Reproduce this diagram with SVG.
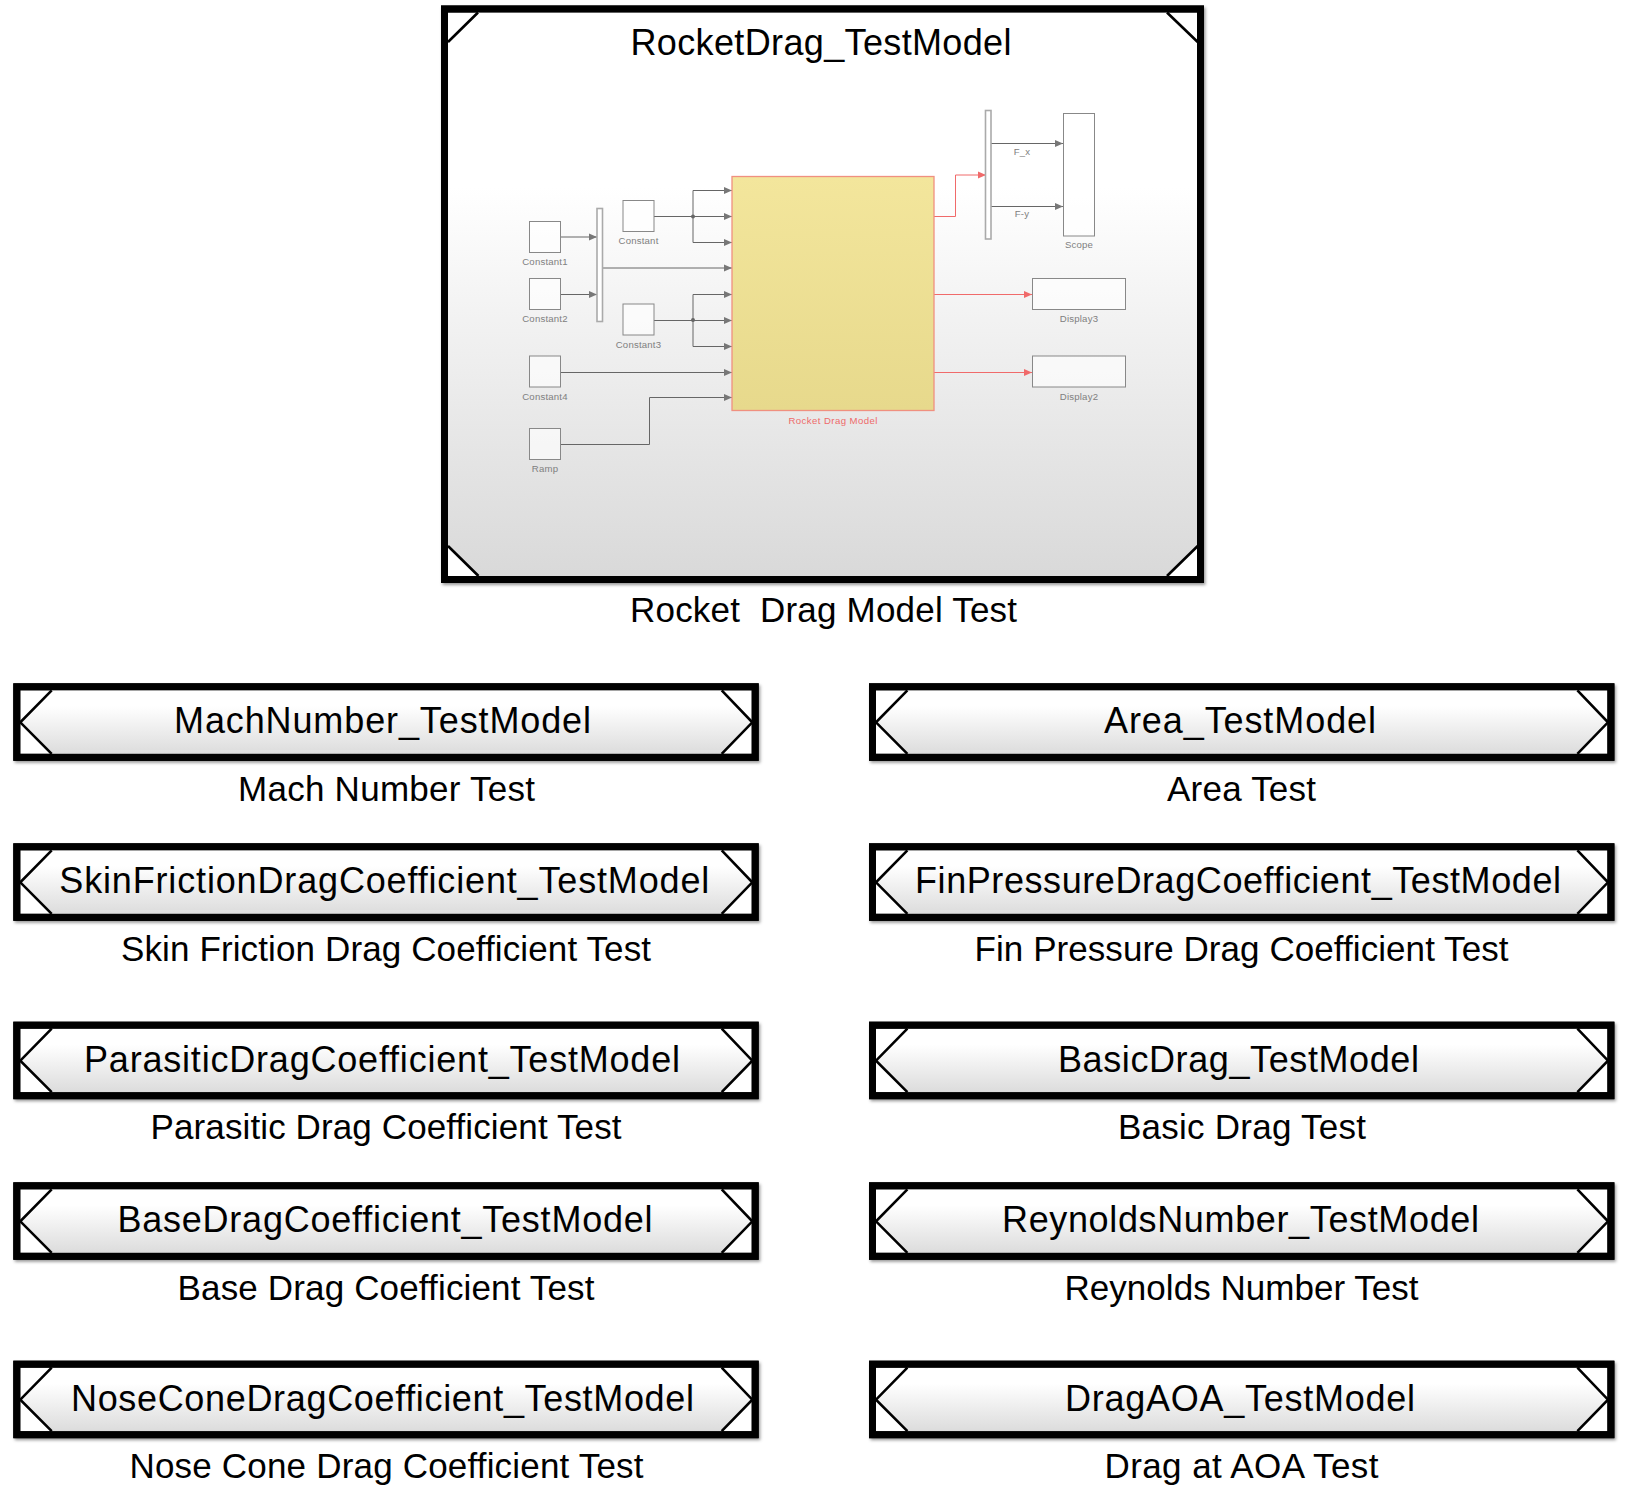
<svg xmlns="http://www.w3.org/2000/svg" width="1631" height="1492" viewBox="0 0 1631 1492">
<style>
text{font-family:"Liberation Sans",Arial,sans-serif;fill:#000}
.t{font-size:36px}
.l{font-size:35px;white-space:pre}
.s{font-size:9.600px;fill:#808080;text-anchor:middle;letter-spacing:.2px}
.r{fill:#ee6a6a}
.frame{fill:none;stroke:#000;stroke-width:7}
.cut{fill:none;stroke:#000;stroke-width:2.600}
.blk{fill:#fff;fill-opacity:.65;stroke:#888;stroke-width:1}
.mux{fill:#fff;stroke:#aaa;stroke-width:1.600}
.w{fill:none;stroke:#666;stroke-width:1;marker-end:url(#ga)}
.w0{fill:none;stroke:#666;stroke-width:1}
.wr{fill:none;stroke:#f06a6a;stroke-width:1;marker-end:url(#ra)}
.shadow{fill:#000;filter:url(#sh)}
</style>
<defs>
<linearGradient id="gm" x1="0" y1="0" x2="0" y2="1"><stop offset="0.31" stop-color="#fff"/><stop offset="1" stop-color="#d9d9d9"/></linearGradient>
<linearGradient id="gs" x1="0" y1="0" x2="0" y2="1"><stop offset="0.25" stop-color="#fff"/><stop offset="1" stop-color="#dcdcdc"/></linearGradient>
<linearGradient id="gy" x1="0" y1="0" x2="0" y2="1"><stop offset="0" stop-color="#f3e69c"/><stop offset="1" stop-color="#e7d98c"/></linearGradient>
<filter id="sh" x="-5%" y="-10%" width="110%" height="125%"><feDropShadow dx="1.500" dy="2" stdDeviation="1.600" flood-color="#000" flood-opacity=".4"/></filter>
<marker id="ga" markerUnits="userSpaceOnUse" markerWidth="8" markerHeight="8" viewBox="0 0 8 8" refX="8" refY="4" orient="auto"><path d="M0 .5L8 4L0 7.500Z" fill="#777"/></marker>
<marker id="ra" markerUnits="userSpaceOnUse" markerWidth="8" markerHeight="8" viewBox="0 0 8 8" refX="8" refY="4" orient="auto"><path d="M0 .5L8 4L0 7.500Z" fill="#f06a6a"/></marker>
<g id="sub">
<rect class="shadow" x="0" y="0" width="745.400" height="77.500"/>
<rect x="7" y="7" width="731.400" height="63.500" fill="#fff"/>
<polygon points="38.400,7 7,39 38.400,70.500 708.400,70.500 738.400,39 708.400,7" fill="url(#gs)"/>
<polyline class="cut" points="38.400,7 7,39 38.400,70.500"/>
<polyline class="cut" points="708.400,7 739,39 708.400,70.500"/>
<rect class="frame" x="3.500" y="3.500" width="738.400" height="70.500"/>
</g>
</defs>
<rect width="1631" height="1492" fill="#fff"/>

<g id="main-block">
<rect class="shadow" x="441" y="5.500" width="763" height="577.500"/>
<rect x="448" y="12.500" width="749.500" height="563.500" fill="#fff"/>
<polygon points="478,12.500 448,42 448,546 478.500,576 1167,576 1197.700,546 1197.700,42 1167,12.500" fill="url(#gm)"/>
<path class="cut" d="M448 42L478 12.500M1167 12.500L1197.700 42M448 546L478.500 576M1167 576L1197.700 546"/>
<rect class="frame" x="444.500" y="9" width="756" height="570.500"/>
<text class="t" x="630.500" y="55" textLength="381" lengthAdjust="spacing">RocketDrag_TestModel</text>
<text class="l" x="630" y="622" textLength="387" lengthAdjust="spacing" xml:space="preserve">Rocket  Drag Model Test</text>
</g>

<g id="thumbnail-connectors">
<polyline class="w" points="561,237 597,237"/>
<polyline class="w" points="561,294.500 597,294.500"/>
<polyline class="w" points="603,268 732,268"/>
<polyline class="w0" points="654,216.500 693,216.500"/>
<polyline class="w" points="693,216.500 732,216.500"/>
<polyline class="w" points="693,216.500 693,190.500 732,190.500"/>
<polyline class="w" points="693,216.500 693,242.500 732,242.500"/>
<circle cx="693" cy="216.500" r="2" fill="#666"/>
<polyline class="w0" points="654,320.500 693,320.500"/>
<polyline class="w" points="693,320.500 732,320.500"/>
<polyline class="w" points="693,320.500 693,294.500 732,294.500"/>
<polyline class="w" points="693,320.500 693,346.500 732,346.500"/>
<circle cx="693" cy="320" r="2" fill="#666"/>
<polyline class="w" points="561,372.500 732,372.500"/>
<polyline class="w" points="561,444.500 649.500,444.500 649.500,397.500 732,397.500"/>
<polyline class="wr" points="934,216.500 955.500,216.500 955.500,175 986,175"/>
<polyline class="wr" points="934,294.500 1032,294.500"/>
<polyline class="wr" points="934,372.500 1032,372.500"/>
<polyline class="w" points="991,143.500 1063,143.500"/>
<polyline class="w" points="991,206.500 1063,206.500"/>
</g>

<g id="Constant1"><rect class="blk" x="529.500" y="221.500" width="31" height="31"/><text class="s" x="545" y="265">Constant1</text></g>
<g id="Constant2"><rect class="blk" x="529.500" y="278.500" width="31" height="31"/><text class="s" x="545" y="322">Constant2</text></g>
<g id="Constant"><rect class="blk" x="623" y="200.500" width="31" height="31"/><text class="s" x="638.500" y="244">Constant</text></g>
<g id="Constant3"><rect class="blk" x="623" y="304" width="31" height="31"/><text class="s" x="638.500" y="348">Constant3</text></g>
<g id="Constant4"><rect class="blk" x="529.500" y="356" width="31" height="31"/><text class="s" x="545" y="400">Constant4</text></g>
<g id="Ramp"><rect class="blk" x="529.500" y="428.500" width="31" height="31"/><text class="s" x="545" y="472">Ramp</text></g>
<g id="Mux1"><rect class="mux" x="597" y="208.500" width="5.500" height="113"/></g>
<g id="Mux2"><rect class="mux" x="985.500" y="110.500" width="5.500" height="128.500"/></g>
<g id="RocketDragModel"><rect x="732" y="176.500" width="202" height="234" fill="url(#gy)" stroke="#f09080" stroke-width="1.300"/><text class="s r" x="833" y="424" textLength="89" lengthAdjust="spacing">Rocket Drag Model</text></g>
<g id="Scope"><rect class="blk" x="1063.500" y="113.500" width="31" height="122.500"/><text class="s" x="1079" y="248">Scope</text></g>
<g id="Display3"><rect class="blk" x="1032.500" y="278.500" width="93" height="31"/><text class="s" x="1079" y="322">Display3</text></g>
<g id="Display2"><rect class="blk" x="1032.500" y="356" width="93" height="31"/><text class="s" x="1079" y="400">Display2</text></g>
<g id="F_x"><text class="s" x="1022" y="155">F_x</text></g>
<g id="F-y"><text class="s" x="1022" y="217">F-y</text></g>

<g id="MachNumber"><use href="#sub" x="13.300" y="683.300"/><text class="t" x="174" y="733.300" textLength="417" lengthAdjust="spacing">MachNumber_TestModel</text><text class="l" x="238" y="801" textLength="297" lengthAdjust="spacing">Mach Number Test</text></g>
<g id="SkinFriction"><use href="#sub" x="13.300" y="843.300"/><text class="t" x="59.300" y="893.300" textLength="650" lengthAdjust="spacing">SkinFrictionDragCoefficient_TestModel</text><text class="l" x="121" y="961" textLength="530" lengthAdjust="spacing">Skin Friction Drag Coefficient Test</text></g>
<g id="Parasitic"><use href="#sub" x="13.300" y="1021.700"/><text class="t" x="84" y="1071.700" textLength="596" lengthAdjust="spacing">ParasiticDragCoefficient_TestModel</text><text class="l" x="150.500" y="1139.400" textLength="471" lengthAdjust="spacing">Parasitic Drag Coefficient Test</text></g>
<g id="BaseDrag"><use href="#sub" x="13.300" y="1182.300"/><text class="t" x="117.500" y="1232.300" textLength="535" lengthAdjust="spacing">BaseDragCoefficient_TestModel</text><text class="l" x="177.500" y="1300" textLength="417" lengthAdjust="spacing">Base Drag Coefficient Test</text></g>
<g id="NoseCone"><use href="#sub" x="13.300" y="1360.700"/><text class="t" x="71" y="1410.700" textLength="623" lengthAdjust="spacing">NoseConeDragCoefficient_TestModel</text><text class="l" x="129.500" y="1478.400" textLength="514" lengthAdjust="spacing">Nose Cone Drag Coefficient Test</text></g>

<g id="Area"><use href="#sub" x="869" y="683.300"/><text class="t" x="1104" y="733.300" textLength="272" lengthAdjust="spacing">Area_TestModel</text><text class="l" x="1167" y="801" textLength="149" lengthAdjust="spacing">Area Test</text></g>
<g id="FinPressure"><use href="#sub" x="869" y="843.300"/><text class="t" x="915" y="893.300" textLength="646" lengthAdjust="spacing">FinPressureDragCoefficient_TestModel</text><text class="l" x="974.500" y="961" textLength="534" lengthAdjust="spacing">Fin Pressure Drag Coefficient Test</text></g>
<g id="BasicDrag"><use href="#sub" x="869" y="1021.700"/><text class="t" x="1058" y="1071.700" textLength="361" lengthAdjust="spacing">BasicDrag_TestModel</text><text class="l" x="1118" y="1139.400" textLength="248" lengthAdjust="spacing">Basic Drag Test</text></g>
<g id="Reynolds"><use href="#sub" x="869" y="1182.300"/><text class="t" x="1002" y="1232.300" textLength="477" lengthAdjust="spacing">ReynoldsNumber_TestModel</text><text class="l" x="1064.500" y="1300" textLength="354" lengthAdjust="spacing">Reynolds Number Test</text></g>
<g id="DragAOA"><use href="#sub" x="869" y="1360.700"/><text class="t" x="1065" y="1410.700" textLength="350" lengthAdjust="spacing">DragAOA_TestModel</text><text class="l" x="1104.500" y="1478.400" textLength="274" lengthAdjust="spacing">Drag at AOA Test</text></g>
</svg>
